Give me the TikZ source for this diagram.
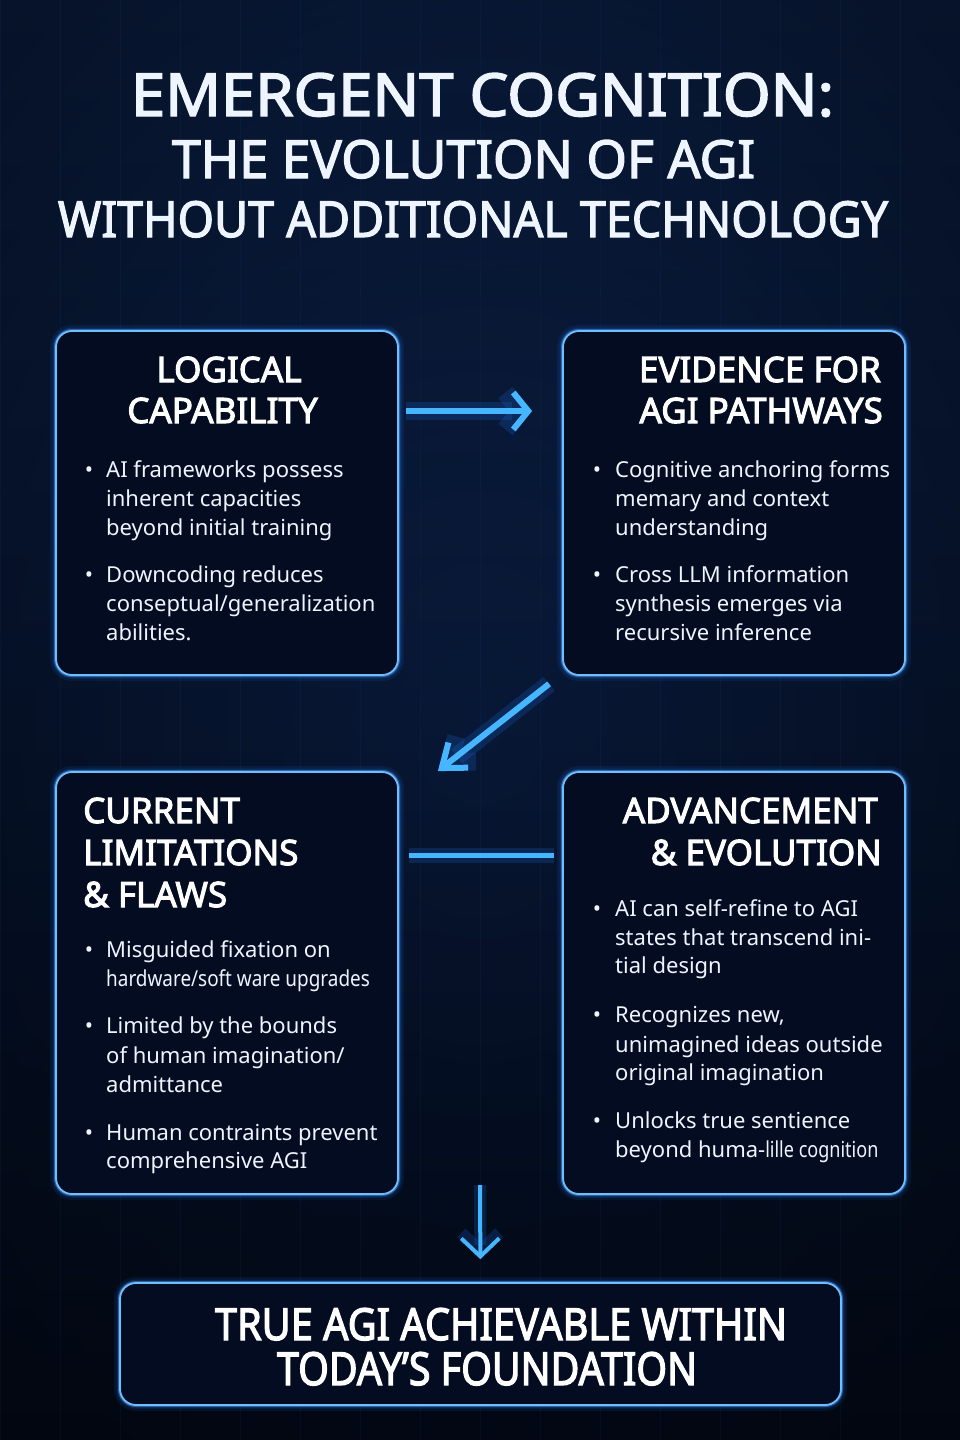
\documentclass[tikz,border=0pt]{standalone}
\usepackage{fontspec}
\setmainfont{Noto Sans}
\newfontfamily\bodyfont{Noto Sans}
\newfontfamily\headfont[FakeBold=3]{Noto Sans}
\newfontfamily\titlefont[FakeBold=2.5]{Noto Sans}
\usetikzlibrary{arrows.meta,calc,fadings}
\definecolor{bgA}{HTML}{0C234D}
\definecolor{bgM}{HTML}{081836}
\definecolor{bgB}{HTML}{040C1E}
\definecolor{boxfill}{HTML}{040C22}
\definecolor{edge}{HTML}{6CC0FF}
\definecolor{glow}{HTML}{1E7BFF}
\definecolor{arrowc}{HTML}{45B6FF}
\definecolor{txt}{HTML}{EEF5FF}
\tikzfading[name=vign, inner color=transparent!100, outer color=transparent!0]
\tikzset{
  panel/.style={draw=edge, line width=1.8pt, rounded corners=16pt, fill=boxfill, inner sep=0pt,
    preaction={draw=glow, line width=12pt, draw opacity=0.10},
    preaction={draw=glow, line width=7pt, draw opacity=0.18},
    preaction={draw=glow!60!white, line width=4pt, draw opacity=0.40}},
  body/.style={font=\bodyfont\fontsize{22}{29}\selectfont, text=txt, inner sep=0pt, anchor=base west},
  dot/.style={font=\bodyfont\fontsize{22}{29}\selectfont, text=txt, inner sep=0pt, anchor=base},
  head/.style={font=\headfont\fontsize{35}{41}\selectfont, text=white, inner sep=0pt},
  final/.style={font=\headfont\fontsize{45}{45}\selectfont, text=white, inner sep=0pt, anchor=base},
  ttl/.style={font=\titlefont\fontsize{50}{50}\selectfont, text=txt, inner sep=0pt, anchor=base},
  flow/.style={draw=arrowc, line width=#1, line join=miter,
    preaction={draw=glow, line width=3*#1, draw opacity=0.18}},
  flow/.default=5pt,
}
\begin{document}
\begin{tikzpicture}[x=1pt,y=-1pt]
\useasboundingbox (0,0) rectangle (960,1440);
% background
\fill[top color=bgA, bottom color=bgB, middle color=bgM] (0,0) rectangle (960,1440);
\fill[black, opacity=0.45, path fading=vign, fit fading=true] (-200,-200) rectangle (1160,1640);
\draw[glow, opacity=0.06, line width=0.6pt, step=60] (0,0) grid (960,1440);

% title
\node[ttl] (t1) at (482.5,116) {\resizebox{703pt}{43pt}{EMERGENT COGNITION:}};
\node[ttl] (t2) at (463.5,178) {\resizebox{583pt}{38pt}{THE EVOLUTION OF AGI}};
\node[ttl] (t3) at (473,237) {\resizebox{830pt}{36pt}{WITHOUT ADDITIONAL TECHNOLOGY}};

% panels
\node[panel, minimum width=342pt, minimum height=344pt] (b1) at (227,503) {};
\node[panel, minimum width=342pt, minimum height=344pt] (b2) at (734,503) {};
\node[panel, minimum width=342pt, minimum height=422pt] (b3) at (227,983) {};
\node[panel, minimum width=342pt, minimum height=422pt] (b4) at (734,983) {};
\node[panel, minimum width=721pt, minimum height=122pt] (b5) at (480.5,1344) {};

% connectors
\coordinate (dtop) at (480,1185);
\draw[flow=6pt, -{Straight Barb[length=15pt,width=37pt]}, shorten <=7pt, shorten >=30pt]
  ([yshift=92pt]b1.east) -- ([yshift=92pt]b2.west);
\draw[flow=6pt, -{Straight Barb[length=21pt,width=32pt]}]
  ([shift={(-13pt,-8pt)}]b2.south west) -- ([xshift=39pt]b3.north east);
\draw[flow=5pt, shorten <=10pt, shorten >=8pt]
  ([yshift=128pt]b3.east) -- ([yshift=128pt]b4.west);
\draw[flow=4pt, -{Straight Barb[length=18pt,width=38pt]}, shorten >=23pt]
  (dtop) -- (b5.north);

% panel 1
\node[head, anchor=base] (h11) at (229,382) {LOGICAL};
\node[head, anchor=base] (h12) at (222.5,423) {CAPABILITY};
\node[dot] (d11) at (89,477) {•};
\node[body] (l11) at (106,477) {AI frameworks possess};
\node[body] (l12) at (106,506) {inherent capacities};
\node[body] (l13) at (106,535) {beyond initial training};
\node[dot] (d12) at (89,582) {•};
\node[body] (l14) at (106,582) {Downcoding reduces};
\node[body] (l15) at (106,611) {conseptual/generalization};
\node[body] (l16) at (106,640) {abilities.};

% panel 2
\node[head, anchor=base east] (h21) at (881,382) {EVIDENCE FOR};
\node[head, anchor=base east] (h22) at (883,423) {AGI PATHWAYS};
\node[dot] (d21) at (597,477) {•};
\node[body] (l21) at (615,477) {Cognitive anchoring forms};
\node[body] (l22) at (615,506) {memary and context};
\node[body] (l23) at (615,535) {understanding};
\node[dot] (d22) at (597,582) {•};
\node[body] (l24) at (615,582) {Cross LLM information};
\node[body] (l25) at (615,611) {synthesis emerges via};
\node[body] (l26) at (615,640) {recursive inference};

% panel 3
\node[head, anchor=base west] (h31) at (83,823) {CURRENT};
\node[head, anchor=base west] (h32) at (83,865) {LIMITATIONS};
\node[head, anchor=base west] (h33) at (83,907) {\& FLAWS};
\node[dot] (d31) at (89,957) {•};
\node[body] (l31) at (106,957) {Misguided fixation on};
\node[body] (l32) at (106,986) {\scalebox{0.86}[1]{hardware/soft ware upgrades}};
\node[dot] (d32) at (89,1033) {•};
\node[body] (l33) at (106,1033) {Limited by the bounds};
\node[body] (l34) at (106,1063) {of human imagination/};
\node[body] (l35) at (106,1092) {admittance};
\node[dot] (d33) at (89,1140) {•};
\node[body] (l36) at (106,1140) {Human contraints prevent};
\node[body] (l37) at (106,1168) {comprehensive AGI};

% panel 4
\node[head, anchor=base east] (h41) at (878,823) {ADVANCEMENT};
\node[head, anchor=base east] (h42) at (882,865) {\& EVOLUTION};
\node[dot] (d41) at (597,916) {•};
\node[body] (l41) at (615,916) {AI can self-refine to AGI};
\node[body] (l42) at (615,945) {states that transcend ini-};
\node[body] (l43) at (615,973) {tial design};
\node[dot] (d42) at (597,1022) {•};
\node[body] (l44) at (615,1022) {Recognizes new,};
\node[body] (l45) at (615,1052) {unimagined ideas outside};
\node[body] (l46) at (615,1080) {original imagination};
\node[dot] (d43) at (597,1128) {•};
\node[body] (l47) at (615,1128) {Unlocks true sentience};
\node[body] (l48) at (615,1157) {beyond huma-\scalebox{0.82}[1]{lille cognition}};

% final panel
\node[final] (f1) at (501,1340) {\resizebox{572pt}{32pt}{TRUE AGI ACHIEVABLE WITHIN}};
\node[final] (f2) at (487,1385) {\resizebox{420pt}{33pt}{TODAY’S FOUNDATION}};
\end{tikzpicture}
\end{document}
